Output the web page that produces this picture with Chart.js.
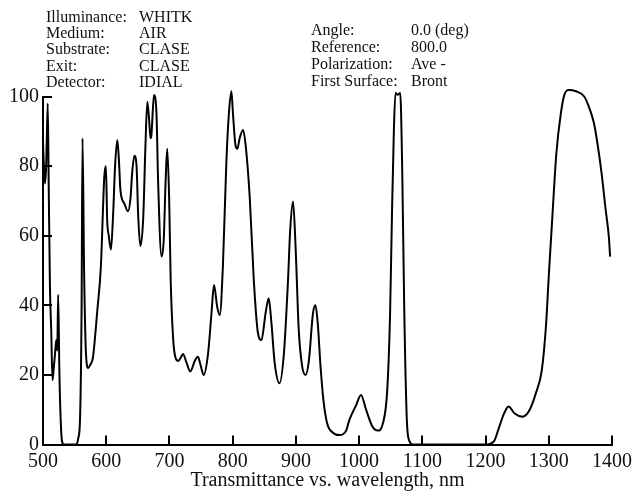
<!DOCTYPE html>
<html lang="en">
<head>
    <meta charset="UTF-8">
    <title>Transmittance vs. wavelength</title>
    <script src="https://cdn.jsdelivr.net/npm/chart.js"></script>
    <style>
        html, body { margin: 0; padding: 0; background: #fff; }
        #wrap { position: relative; width: 634px; height: 491px; }
    </style>
</head>
<body>
    <div id="wrap"><canvas id="myChart"></canvas></div>

    <script>
        // wavelength (nm) and transmittance (%)
        const wavelengths = [
            500, 503, 505, 507.5, 509, 511, 513, 515, 517, 519, 521, 522.5, 524, 526, 528, 530, 533,
            553, 556, 558.5, 561, 562.5, 565, 568, 571.5, 575, 579, 586, 591.5, 597, 599.5, 601.5, 604,
            607.5, 611, 614, 617.5, 620, 622.5, 628.5, 634.5, 638.5, 641, 644.5, 648, 650.5, 654, 658.5,
            662, 665, 668, 670, 671.5, 675.5, 679.5, 682, 687.5, 691, 694, 696.5, 699.5, 702, 706, 709.5,
            714, 718, 721.5, 727, 733, 740, 745, 749, 754, 761, 766.5, 770.5, 775.5, 779.5, 784.5, 790,
            794, 798, 800.5, 804.5, 807.5, 811, 816.5, 820.5, 827, 833.5, 840, 845.5, 852, 857, 861, 866.5,
            874, 881, 887.5, 891, 895.5, 899.5, 904.5, 910, 915.5, 920.5, 927, 931, 934.5, 939, 943.5, 949.5,
            958.5, 969, 979.5, 984.5, 995.5, 1003, 1011, 1021.5, 1029.5, 1037.5, 1044.5, 1049, 1052, 1055,
            1057.5, 1061, 1065, 1068, 1071.5, 1075.5, 1079.5, 1084.5, 1200, 1213.5, 1221.5, 1229.5, 1236.5,
            1245.5, 1258.5, 1269, 1279.5, 1289, 1295.5, 1300.5, 1306, 1312, 1319, 1324.5, 1332, 1343,
            1356, 1363.5, 1371.5, 1377, 1383.5, 1390, 1395, 1397
        ];
        const transmittance = [
            87, 75, 80, 98, 75, 45, 33, 18.5, 22, 26, 30, 27, 43, 20, 7, 1, 0,
            0, 2, 7, 38, 88, 50, 26, 22, 23, 25, 38.7, 51, 77, 80, 64.5, 60,
            56, 66.5, 80, 87.5, 82, 73, 69.3, 67, 71, 78, 83, 80, 66, 57, 65,
            85.6, 98.5, 93, 88, 89, 100.4, 95, 76, 54, 59, 76, 85, 71, 47, 30, 25,
            24, 25, 26, 23.5, 21, 24, 25.2, 23, 20, 26, 37.7, 45.8, 39.6, 37.2, 51, 81,
            95, 101.5, 95, 86, 85, 88, 90.4, 86, 71, 47, 32, 30, 37.7, 42, 35.6, 23.4,
            17.6, 26, 47, 61.6, 69.8, 56.8, 33, 22.4, 20, 24, 37.7, 40, 35, 22.4, 12.8, 6,
            3.4, 2.7, 4, 7, 11.4, 14.2, 10, 5, 4, 6, 15.7, 37.7, 66.5, 90.4,
            101, 100.5, 101, 81, 37.7, 7, 1, 0, 0, 1, 5, 9, 10.9,
            9, 8, 9.7, 14.7, 21.4, 33.9, 50, 66.5, 83.7, 95, 100.4, 101.9, 101.5,
            100, 97, 92.3, 86.5, 78, 67.4, 59.7, 54
        ];

        const xTicks = [500, 600, 700, 800, 900, 1000, 1100, 1200, 1300, 1400];
        const yTicks = [0, 20, 40, 60, 80, 100];

        const headerLeft = [
            ['Illuminance:', 'WHITK'],
            ['Medium:', 'AIR'],
            ['Substrate:', 'CLASE'],
            ['Exit:', 'CLASE'],
            ['Detector:', 'IDIAL']
        ];
        const headerRight = [
            ['Angle:', '0.0 (deg)'],
            ['Reference:', '800.0'],
            ['Polarization:', 'Ave -'],
            ['First Surface:', 'Bront']
        ];
        const xTitle = 'Transmittance vs. wavelength, nm';

        const serif = '"Liberation Serif", "Times New Roman", serif';

        // inward tick marks, header block and axis caption
        const decorations = {
            id: 'decorations',
            afterDraw(chart) {
                const ctx = chart.ctx;
                const area = chart.chartArea;
                const xs = chart.scales.x;
                const ys = chart.scales.y;
                ctx.save();
                ctx.strokeStyle = '#000';
                ctx.lineWidth = 2;
                ctx.beginPath();
                xTicks.forEach(v => {
                    const px = Math.round(xs.getPixelForValue(v));
                    ctx.moveTo(px, area.bottom);
                    ctx.lineTo(px, area.bottom - 9);
                });
                yTicks.forEach(v => {
                    const py = Math.round(ys.getPixelForValue(v));
                    ctx.moveTo(area.left, py);
                    ctx.lineTo(area.left + 9, py);
                });
                ctx.stroke();

                ctx.fillStyle = '#111';
                ctx.textBaseline = 'alphabetic';
                ctx.textAlign = 'left';
                ctx.font = '16px ' + serif;
                headerLeft.forEach((row, i) => {
                    const y = 21.5 + i * 16.45;
                    ctx.fillText(row[0], 46, y);
                    ctx.fillText(row[1], 139, y);
                });
                headerRight.forEach((row, i) => {
                    const y = 34.5 + i * 17;
                    ctx.fillText(row[0], 311, y);
                    ctx.fillText(row[1], 411, y);
                });

                ctx.font = '20px ' + serif;
                ctx.textAlign = 'center';
                ctx.fillText(xTitle, (area.left + area.right) / 2, 486);
                ctx.restore();
            }
        };

        const points = wavelengths.map((w, i) => ({ x: w, y: transmittance[i] }));

        const ctx = document.getElementById('myChart').getContext('2d');
        const myChart = new Chart(ctx, {
            type: 'line',
            data: {
                datasets: [{
                    data: points,
                    borderColor: '#000',
                    borderWidth: 2,
                    pointRadius: 0,
                    cubicInterpolationMode: 'monotone',
                    fill: false,
                    clip: false
                }]
            },
            options: {
                responsive: true,
                maintainAspectRatio: false,
                animation: false,
                layout: {
                    padding: { left: 0, right: 22, top: 96.5, bottom: 0 }
                },
                plugins: {
                    legend: { display: false },
                    tooltip: { enabled: false }
                },
                scales: {
                    x: {
                        type: 'linear',
                        min: 500,
                        max: 1400,
                        afterBuildTicks: scale => { scale.ticks = xTicks.map(v => ({ value: v })); },
                        afterFit: scale => {
                            scale.height = 46.5;
                            scale.paddingLeft = 0;
                            scale.paddingRight = 0;
                        },
                        grid: { display: false, drawTicks: false },
                        border: { display: true, color: '#000', width: 2 },
                        ticks: {
                            color: '#111',
                            padding: 5,
                            maxRotation: 0,
                            autoSkip: false,
                            font: { family: serif, size: 20 },
                            callback: v => String(v)
                        }
                    },
                    y: {
                        min: 0,
                        max: 100,
                        afterBuildTicks: scale => { scale.ticks = yTicks.map(v => ({ value: v })); },
                        afterFit: scale => {
                            scale.width = 43;
                            scale.paddingTop = 0;
                            scale.paddingBottom = 0;
                        },
                        grid: { display: false, drawTicks: false },
                        border: { display: true, color: '#000', width: 2 },
                        ticks: {
                            color: '#111',
                            padding: 4,
                            font: { family: serif, size: 20 },
                            callback: v => String(v)
                        }
                    }
                }
            },
            plugins: [decorations]
        });
    </script>
</body>
</html>
